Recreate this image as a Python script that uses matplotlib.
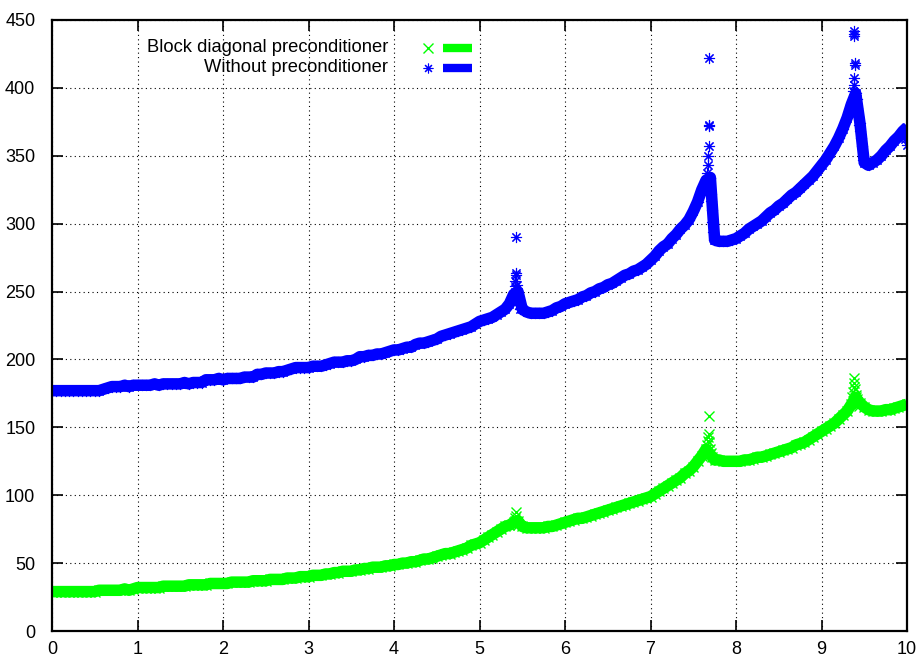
import numpy as np
import matplotlib
matplotlib.use("Agg")
import matplotlib.pyplot as plt

plt.rcParams['font.family'] = ['Liberation Sans', 'DejaVu Sans']

# ---- data ----
x_grid = np.linspace(0, 10, 201)

green_main = [
    29, 29, 29, 29, 29, 29, 29, 29, 29, 29, 29, 30, 30, 30, 30, 30, 30, 31, 30, 31,
    32, 32, 32, 32, 32, 32, 33, 33, 33, 33, 33, 33, 34, 34, 34, 34, 34, 35, 35, 35,
    35, 35, 36, 36, 36, 36, 36, 37, 37, 37, 37, 38, 38, 38, 38, 39, 39, 39, 40, 40,
    40, 41, 41, 41, 42, 42, 43, 43, 44, 44, 44, 45, 45, 46, 46, 47, 47, 47, 48, 48,
    49, 49, 50, 50, 51, 51, 52, 53, 53, 54, 55, 56, 57, 57, 58, 59, 60, 61, 63, 64,
    65, 67, 69, 71, 73, 75, 77, 78, 80, 81, 77, 76, 76, 76, 76, 76, 77, 77, 78, 79,
    80, 81, 82, 83, 83, 84, 85, 86, 87, 88, 89, 90, 91, 92, 93, 94, 95, 96, 97, 98,
    99, 101, 103, 105, 107, 109, 111, 113, 116, 118, 121, 125, 129, 134, 130, 126, 126, 125, 125, 125,
    125, 125, 126, 126, 127, 128, 128, 129, 130, 131, 132, 133, 134, 135, 137, 138, 139, 141, 143, 145,
    147, 149, 151, 153, 156, 159, 162, 167, 172, 168, 165, 163, 162, 162, 162, 163, 163, 164, 165, 166,
    167,
]

blue_main = [
    177, 177, 177, 177, 177, 177, 177, 177, 177, 177, 177, 177, 178, 179, 180, 180, 180, 181, 180, 181,
    181, 181, 181, 181, 182, 181, 182, 182, 182, 182, 182, 183, 182, 183, 183, 183, 185, 185, 185, 186,
    185, 186, 186, 186, 186, 187, 187, 187, 189, 189, 190, 190, 190, 191, 191, 192, 193, 194, 194, 194,
    194, 195, 195, 195, 196, 197, 198, 198, 198, 199, 199, 200, 202, 202, 203, 203, 204, 204, 205, 206,
    207, 207, 208, 209, 209, 211, 212, 212, 213, 214, 215, 217, 218, 219, 220, 221, 222, 223, 224, 226,
    228, 229, 230, 231, 233, 235, 237, 241, 248, 250, 237, 235, 234, 234, 234, 234, 235, 236, 238, 239,
    241, 242, 243, 244, 246, 247, 249, 250, 252, 253, 255, 256, 258, 260, 262, 263, 265, 266, 268, 270,
    273, 276, 280, 283, 285, 289, 292, 296, 299, 303, 309, 316, 325, 332, 334, 288, 287, 287, 287, 288,
    289, 291, 293, 296, 298, 300, 302, 305, 308, 310, 313, 315, 318, 321, 323, 326, 329, 332, 335, 339,
    343, 347, 352, 357, 363, 370, 378, 388, 396, 374, 345, 343, 345, 347, 350, 354, 357, 361, 364, 368,
    371,
]

# extra samples around the resonance peaks
green_peak_x = [5.41, 5.42, 5.43, 5.43, 5.44, 5.45,
                7.66, 7.67, 7.67, 7.68, 7.68, 7.69, 7.70, 7.71, 7.72,
                9.36, 9.37, 9.38, 9.38, 9.38, 9.39, 9.40, 9.41, 9.42, 9.43, 9.44]
green_peak_y = [81, 83, 85, 88, 80, 78,
                137, 140, 143, 145, 158, 139, 134, 131, 128,
                172, 176, 180, 183, 186, 178, 174, 171, 169, 167, 166]

blue_peak_x = [5.41, 5.42, 5.42, 5.43, 5.43, 5.43, 5.44, 5.45, 5.46, 5.47,
               7.66, 7.67, 7.67, 7.68, 7.68, 7.68, 7.68, 7.70, 7.705, 7.71, 7.715, 7.72, 7.73, 7.74,
               9.37, 9.38, 9.38, 9.39, 9.39, 9.38, 9.38, 9.38, 9.41, 9.42, 9.43, 9.44, 9.45, 9.46,
               9.47, 9.48, 9.49, 9.98, 10.0]
blue_peak_y = [250, 254, 258, 262, 264, 290, 255, 245, 240, 237,
               337, 343, 350, 357, 372, 373, 422, 334, 322, 317, 310, 301, 294, 288,
               398, 402, 407, 417, 418, 438, 440, 442, 392, 385, 379, 373, 368, 363,
               357, 350, 347, 362, 358]

labels = ["Block diagonal preconditioner", "Without preconditioner"]
x_ticks = list(range(0, 11))
y_ticks = list(range(0, 451, 50))

GREEN = "#00ff00"
BLUE = "#0000ff"
STAR = (8, 2, 0)
MS = 7.5
BAND = 8.3

fig = plt.figure(figsize=(9.2, 6.62), dpi=100)
ax = fig.add_axes([52 / 920, 1 - 631 / 662, (907 - 52) / 920, (631 - 20) / 662])

# dense sampling rendered as a solid band of overlapping markers
ax.plot(x_grid, green_main, color=GREEN, lw=BAND, solid_joinstyle='round',
        solid_capstyle='butt', zorder=2)
ax.plot(x_grid, blue_main, color=BLUE, lw=BAND, solid_joinstyle='round',
        solid_capstyle='butt', zorder=2)

gx = np.concatenate([x_grid, green_peak_x])
gy = np.concatenate([green_main, green_peak_y])
bx = np.concatenate([x_grid, blue_peak_x])
by = np.concatenate([blue_main, blue_peak_y])

ax.plot(gx, gy, linestyle='none', marker='x', ms=MS, mew=1.0, color=GREEN, zorder=3)
ax.plot(bx, by, linestyle='none', marker=STAR, ms=MS + 0.5, mew=0.8, color=BLUE, zorder=3)

ax.set_xlim(0, 10)
ax.set_ylim(0, 450)
ax.set_xticks(x_ticks)
ax.set_yticks(y_ticks)
ax.tick_params(direction='in', length=8, width=1.2, top=True, right=True,
               labelsize=13, colors='black')
ax.tick_params(axis='y', pad=12)
ax.tick_params(axis='x', pad=7)
ax.grid(True, linestyle=(0, (1, 3)), color='black', linewidth=0.8)
for s in ax.spines.values():
    s.set_linewidth(1.6)
    s.set_zorder(5)

# gnuplot-style key (top left)
def key_row(yax, label, color, marker, mew):
    ax.text((388 - 52) / 855, yax, label, transform=ax.transAxes, ha='right',
            va='center', fontsize=13.2)
    ax.plot([(428 - 52) / 855], [yax], transform=ax.transAxes, marker=marker,
            ms=7, mew=mew, color=color, linestyle='none', clip_on=False)
    ax.plot([(443 - 52) / 855, (472 - 52) / 855], [yax, yax], transform=ax.transAxes,
            color=color, linewidth=6, solid_capstyle='butt', clip_on=False)

key_row((631 - 48) / 611, labels[0], GREEN, 'x', 1.0)
key_row((631 - 68) / 611, labels[1], BLUE, STAR, 0.8)

fig.savefig("out.png", dpi=100)
